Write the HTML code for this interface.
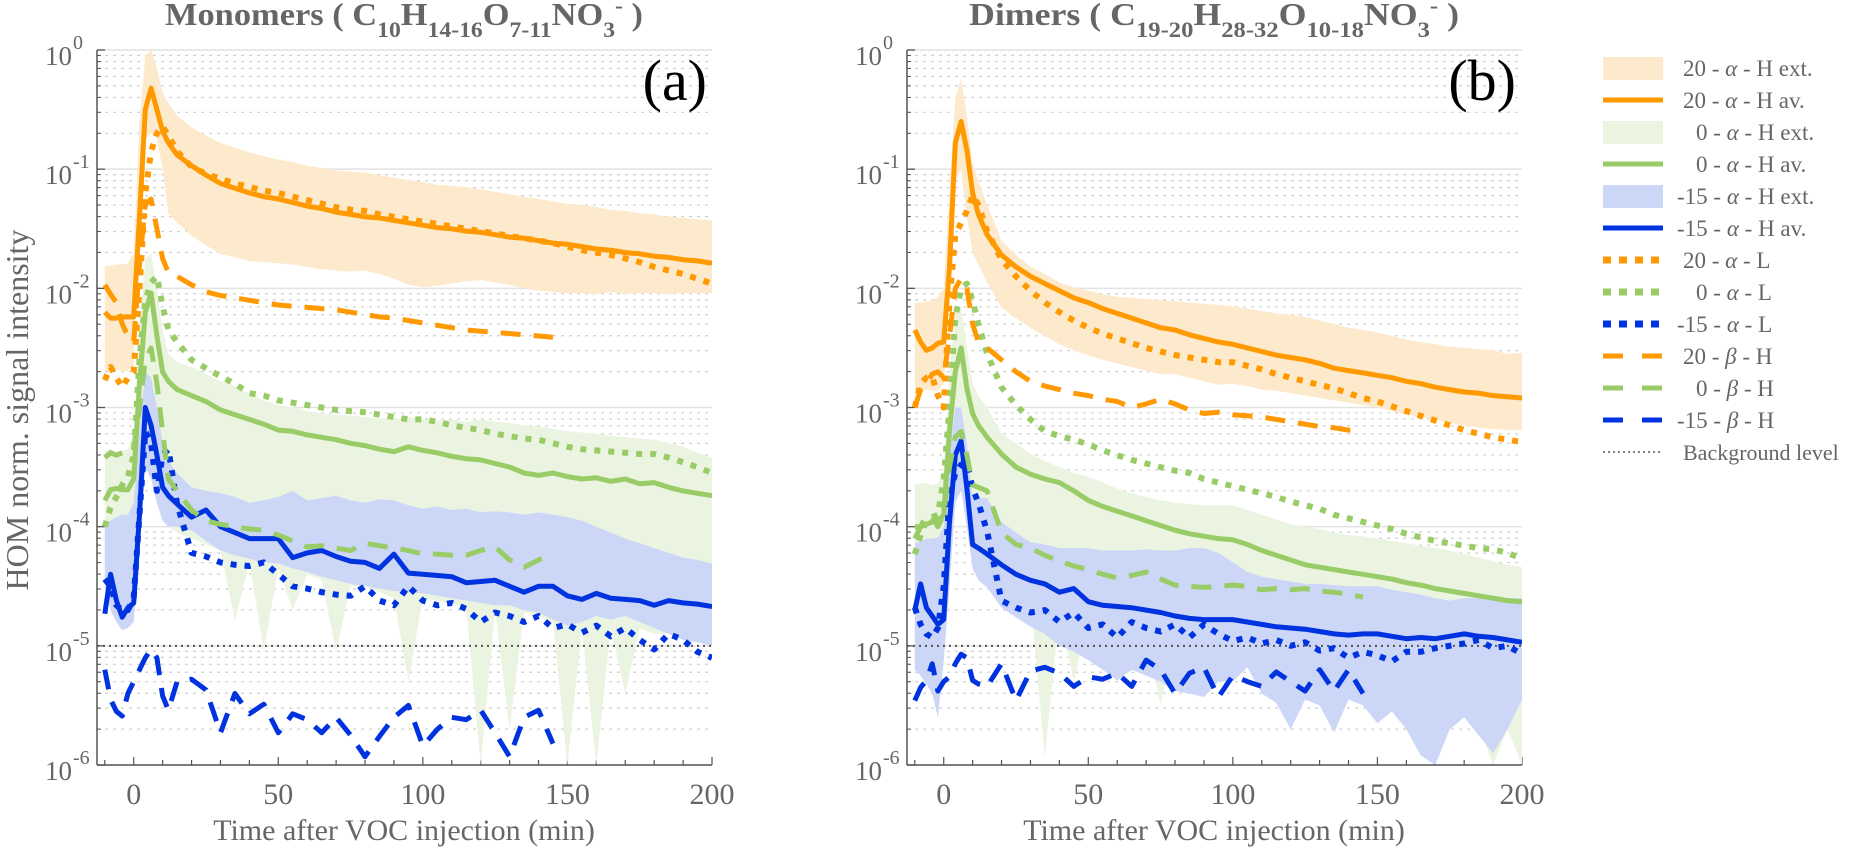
<!DOCTYPE html>
<html><head><meta charset="utf-8"><style>
html,body{margin:0;padding:0;background:#fff;}
svg{display:block;font-family:"Liberation Serif","DejaVu Serif",serif;}
</style></head><body>
<svg id="chart" width="1867" height="849" viewBox="0 0 1867 849" xmlns="http://www.w3.org/2000/svg">
<defs>
<clipPath id="clipA"><rect x="97" y="50" width="615" height="715"/></clipPath>
<clipPath id="clipB"><rect x="907" y="50" width="615" height="715"/></clipPath>
</defs>
<g id="panelA"></g>
<g id="panelB"></g>

<text x="404" y="25" text-anchor="middle" font-size="32" font-weight="bold" fill="#666" textLength="478" lengthAdjust="spacingAndGlyphs">Monomers  ( C<tspan dy="12" font-size="22">10</tspan><tspan dy="-12">H</tspan><tspan dy="12" font-size="22">14-16</tspan><tspan dy="-12">O</tspan><tspan dy="12" font-size="22">7-11</tspan><tspan dy="-12">NO</tspan><tspan dy="12" font-size="22">3</tspan><tspan dy="-24" font-size="22">-</tspan><tspan dy="12"> )</tspan></text>
<text x="1214" y="25" text-anchor="middle" font-size="32" font-weight="bold" fill="#666" textLength="490" lengthAdjust="spacingAndGlyphs">Dimers  ( C<tspan dy="12" font-size="22">19-20</tspan><tspan dy="-12">H</tspan><tspan dy="12" font-size="22">28-32</tspan><tspan dy="-12">O</tspan><tspan dy="12" font-size="22">10-18</tspan><tspan dy="-12">NO</tspan><tspan dy="12" font-size="22">3</tspan><tspan dy="-24" font-size="22">-</tspan><tspan dy="12"> )</tspan></text>

<text x="707" y="100" text-anchor="end" font-size="58" fill="#000">(a)</text>
<text x="1516" y="100" text-anchor="end" font-size="58" fill="#000">(b)</text>

<text transform="translate(28,410) rotate(-90)" text-anchor="middle" font-size="32" fill="#666">HOM norm. signal intensity</text>
<text x="404" y="840" text-anchor="middle" font-size="30" fill="#666">Time after VOC injection (min)</text>
<text x="1214" y="840" text-anchor="middle" font-size="30" fill="#666">Time after VOC injection (min)</text>

<g id="legend" font-size="23" fill="#666"></g>
</svg>
<script>
// shared time grid (min)
const timeGrid = [-10,-8,-6,-4,-2,0,2,4,6,8,10,12,15,20,25,30,35,40,45,50,55,60,65,70,75,80,85,90,95,100,105,110,115,120,125,130,135,140,145,150,155,160,165,170,175,180,185,190,195,200];
const xTicks = [0,50,100,150,200];
const yDecades = [0,-1,-2,-3,-4,-5,-6];
const backgroundLevel = 1e-5;

// ---- Panel (a) Monomers, values are log10(signal) ----
const aOrangeAvLog = [-2.2,-2.25,-2.25,-2.24,-2.24,-2.24,-1.4,-0.5,-0.32,-0.5,-0.68,-0.78,-0.88,-0.97,-1.05,-1.12,-1.16,-1.2,-1.23,-1.25,-1.28,-1.31,-1.33,-1.36,-1.38,-1.4,-1.41,-1.43,-1.45,-1.47,-1.49,-1.5,-1.52,-1.53,-1.55,-1.57,-1.58,-1.6,-1.62,-1.63,-1.65,-1.67,-1.68,-1.7,-1.71,-1.73,-1.74,-1.76,-1.77,-1.79];
const aOrangeHiLog = [-1.81,-1.81,-1.8,-1.8,-1.79,-1.7,-0.6,-0.05,0.0,-0.15,-0.36,-0.45,-0.55,-0.65,-0.72,-0.78,-0.82,-0.86,-0.89,-0.92,-0.94,-0.97,-0.99,-1.01,-1.02,-1.03,-1.05,-1.07,-1.09,-1.11,-1.13,-1.14,-1.15,-1.17,-1.19,-1.21,-1.23,-1.25,-1.27,-1.29,-1.3,-1.32,-1.34,-1.35,-1.37,-1.38,-1.4,-1.41,-1.42,-1.43];
const aOrangeLoLog = [-2.69,-2.7,-2.68,-2.7,-2.69,-2.65,-0.95,-0.75,-0.7,-0.75,-1.0,-1.37,-1.45,-1.56,-1.64,-1.71,-1.74,-1.77,-1.78,-1.79,-1.8,-1.82,-1.84,-1.85,-1.86,-1.85,-1.88,-1.92,-1.97,-1.99,-1.98,-1.96,-1.94,-1.93,-1.95,-1.97,-2.0,-2.02,-2.03,-2.04,-2.04,-2.05,-2.03,-2.05,-2.04,-2.04,-2.05,-2.04,-2.04,-2.04];
const aOrangeLLog = [-2.77,-2.66,-2.75,-2.83,-2.75,-2.7,-2.0,-1.2,-0.85,-0.7,-0.64,-0.72,-0.85,-0.98,-1.04,-1.08,-1.12,-1.15,-1.18,-1.2,-1.23,-1.26,-1.29,-1.32,-1.34,-1.35,-1.38,-1.4,-1.42,-1.44,-1.46,-1.48,-1.5,-1.52,-1.54,-1.56,-1.58,-1.6,-1.62,-1.65,-1.68,-1.7,-1.72,-1.75,-1.78,-1.82,-1.85,-1.88,-1.92,-1.96];
const aOrangeBetaLog = [-1.97,-2.05,-2.12,-2.3,-2.4,-2.45,-1.8,-1.3,-1.25,-1.5,-1.75,-1.87,-1.9,-1.97,-2.03,-2.06,-2.08,-2.1,-2.12,-2.14,-2.15,-2.16,-2.17,-2.18,-2.2,-2.22,-2.24,-2.25,-2.27,-2.29,-2.31,-2.33,-2.35,-2.36,-2.37,-2.38,-2.39,-2.4,-2.41,null,null,null,null,null,null,null,null,null,null,null];
const aGreenAvLog = [-3.78,-3.69,-3.68,-3.69,-3.69,-3.6,-2.8,-2.2,-2.04,-2.4,-2.7,-2.78,-2.85,-2.9,-2.95,-3.02,-3.06,-3.1,-3.14,-3.19,-3.2,-3.23,-3.25,-3.27,-3.3,-3.32,-3.35,-3.37,-3.33,-3.36,-3.38,-3.41,-3.43,-3.44,-3.47,-3.5,-3.55,-3.57,-3.55,-3.58,-3.6,-3.59,-3.62,-3.6,-3.64,-3.63,-3.67,-3.7,-3.72,-3.74];
const aGreenHiLog = [-3.36,-3.35,-3.37,-3.36,-3.35,-3.2,-2.3,-1.75,-1.71,-2.0,-2.35,-2.55,-2.62,-2.66,-2.72,-2.78,-2.82,-2.88,-2.94,-2.98,-3.0,-3.03,-3.05,-3.06,-3.07,-3.08,-3.09,-3.1,-3.08,-3.1,-3.11,-3.1,-3.12,-3.1,-3.12,-3.13,-3.15,-3.16,-3.18,-3.2,-3.21,-3.22,-3.24,-3.25,-3.26,-3.27,-3.3,-3.33,-3.38,-3.42];
const aGreenLoLog = [-4.4,-4.45,-4.5,-4.6,-4.7,-4.4,-3.9,-3.5,-3.4,-3.6,-3.9,-4.0,-4.05,-4.1,-4.15,-4.2,-4.79,-4.3,-5.04,-4.35,-4.7,-4.4,-4.45,-5.05,-4.5,-4.5,-4.55,-4.6,-5.3,-4.6,-4.62,-4.65,-4.68,-6.0,-4.7,-5.7,-4.72,-4.75,-4.8,-6.0,-4.85,-6.0,-4.85,-5.4,-4.85,-4.9,-4.9,-4.95,-4.95,-5.0];
const aGreenLLog = [-4.0,-3.84,-3.75,-3.65,-3.58,-3.4,-2.6,-2.1,-1.95,-1.9,-2.15,-2.35,-2.45,-2.6,-2.67,-2.74,-2.8,-2.88,-2.9,-2.94,-2.96,-2.98,-3.0,-3.02,-3.03,-3.04,-3.06,-3.08,-3.1,-3.1,-3.12,-3.15,-3.17,-3.19,-3.22,-3.24,-3.26,-3.27,-3.3,-3.33,-3.35,-3.36,-3.37,-3.38,-3.39,-3.39,-3.42,-3.46,-3.5,-3.55];
const aGreenBetaLog = [-3.42,-3.38,-3.4,-3.38,-3.4,-3.35,-3.0,-2.6,-2.5,-2.8,-3.2,-3.6,-3.7,-3.86,-3.95,-3.98,-4.0,-4.02,-4.03,-4.07,-4.12,-4.17,-4.16,-4.18,-4.2,-4.14,-4.16,-4.18,-4.2,-4.23,-4.23,-4.24,-4.24,-4.2,-4.17,-4.28,-4.34,-4.28,-4.23,null,null,null,null,null,null,null,null,null,null,null];
const aBlueAvLog = [-4.73,-4.4,-4.62,-4.76,-4.68,-4.64,-3.9,-3.0,-3.15,-3.4,-3.67,-3.74,-3.81,-3.92,-3.86,-4.0,-4.05,-4.1,-4.1,-4.1,-4.26,-4.22,-4.2,-4.25,-4.29,-4.3,-4.35,-4.23,-4.39,-4.4,-4.41,-4.42,-4.47,-4.46,-4.45,-4.5,-4.55,-4.5,-4.5,-4.58,-4.61,-4.56,-4.6,-4.61,-4.62,-4.66,-4.62,-4.64,-4.65,-4.67];
const aBlueHiLog = [-3.97,-3.95,-3.92,-3.9,-3.9,-3.8,-3.2,-2.7,-2.75,-3.0,-3.3,-3.45,-3.55,-3.67,-3.7,-3.72,-3.75,-3.8,-3.78,-3.75,-3.7,-3.78,-3.76,-3.74,-3.78,-3.8,-3.77,-3.78,-3.82,-3.85,-3.83,-3.86,-3.85,-3.88,-3.87,-3.88,-3.9,-3.88,-3.9,-3.92,-3.95,-4.0,-4.05,-4.1,-4.14,-4.18,-4.22,-4.26,-4.28,-4.31];
const aBlueLoLog = [-4.5,-4.7,-4.8,-4.87,-4.85,-4.8,-4.2,-3.5,-3.6,-3.8,-3.95,-4.0,-4.0,-4.03,-4.12,-4.2,-4.24,-4.27,-4.3,-4.31,-4.35,-4.38,-4.42,-4.45,-4.48,-4.5,-4.52,-4.54,-4.55,-4.56,-4.58,-4.6,-4.62,-4.64,-4.66,-4.66,-4.7,-4.72,-4.78,-4.83,-4.8,-4.75,-4.78,-4.75,-4.8,-4.85,-4.9,-4.95,-4.97,-5.0];
const aBlueLLog = [-4.44,-4.5,-4.66,-4.7,-4.7,-4.6,-3.9,-3.2,-3.3,-3.7,-3.4,-3.35,-3.81,-4.22,-4.25,-4.3,-4.32,-4.33,-4.3,-4.4,-4.5,-4.52,-4.55,-4.57,-4.58,-4.5,-4.62,-4.66,-4.5,-4.62,-4.66,-4.64,-4.69,-4.8,-4.72,-4.75,-4.8,-4.75,-4.85,-4.82,-4.89,-4.83,-4.92,-4.85,-4.95,-5.03,-4.9,-4.95,-5.05,-5.1];
const aBlueBetaLog = [-5.2,-5.45,-5.55,-5.59,-5.4,-5.3,-5.2,-5.1,-5.03,-5.1,-5.42,-5.54,-5.3,-5.28,-5.37,-5.73,-5.4,-5.57,-5.49,-5.73,-5.57,-5.62,-5.73,-5.6,-5.75,-5.93,-5.76,-5.6,-5.5,-5.84,-5.7,-5.6,-5.62,-5.54,-5.73,-5.93,-5.6,-5.54,-5.82,null,null,null,null,null,null,null,null,null,null,null];

// ---- Panel (b) Dimers, values are log10(signal) ----
const bOrangeAvLog = [-2.35,-2.45,-2.52,-2.5,-2.46,-2.45,-1.82,-0.78,-0.6,-0.84,-1.2,-1.38,-1.55,-1.72,-1.82,-1.9,-1.96,-2.02,-2.08,-2.12,-2.17,-2.21,-2.25,-2.29,-2.33,-2.35,-2.39,-2.42,-2.45,-2.47,-2.5,-2.53,-2.56,-2.58,-2.6,-2.63,-2.67,-2.69,-2.71,-2.73,-2.75,-2.78,-2.8,-2.83,-2.85,-2.87,-2.88,-2.9,-2.91,-2.92];
const bOrangeHiLog = [-2.12,-2.12,-2.11,-2.1,-2.07,-2.0,-1.2,-0.4,-0.24,-0.55,-0.95,-1.1,-1.3,-1.6,-1.72,-1.82,-1.88,-1.95,-1.99,-2.02,-2.05,-2.07,-2.08,-2.09,-2.1,-2.11,-2.12,-2.13,-2.14,-2.15,-2.17,-2.19,-2.21,-2.22,-2.24,-2.27,-2.3,-2.33,-2.35,-2.37,-2.4,-2.43,-2.45,-2.47,-2.49,-2.5,-2.51,-2.52,-2.55,-2.54];
const bOrangeLoLog = [-2.85,-2.86,-2.85,-2.86,-2.86,-2.8,-2.0,-1.1,-1.0,-1.4,-1.7,-1.8,-1.95,-2.16,-2.25,-2.33,-2.4,-2.47,-2.52,-2.56,-2.6,-2.63,-2.66,-2.69,-2.72,-2.72,-2.75,-2.78,-2.81,-2.8,-2.82,-2.85,-2.86,-2.88,-2.9,-2.92,-2.94,-2.96,-2.98,-3.0,-3.03,-3.06,-3.08,-3.1,-3.13,-3.15,-3.17,-3.18,-3.19,-3.19];
const bOrangeLLog = [-3.0,-2.8,-2.75,-2.74,-2.9,-3.0,-2.1,-1.55,-1.45,-1.35,-1.22,-1.3,-1.52,-1.76,-1.9,-2.02,-2.12,-2.2,-2.27,-2.33,-2.38,-2.42,-2.46,-2.5,-2.53,-2.56,-2.58,-2.6,-2.62,-2.62,-2.65,-2.68,-2.72,-2.75,-2.78,-2.81,-2.84,-2.88,-2.92,-2.95,-2.99,-3.03,-3.07,-3.11,-3.15,-3.19,-3.22,-3.25,-3.27,-3.29];
const bOrangeBetaLog = [-3.0,-2.85,-2.8,-2.72,-2.7,-2.75,-2.4,-2.0,-1.92,-2.0,-2.3,-2.45,-2.5,-2.6,-2.7,-2.78,-2.82,-2.85,-2.88,-2.9,-2.93,-2.95,-3.0,-2.97,-2.93,-2.97,-3.02,-3.05,-3.04,-3.06,-3.07,-3.08,-3.1,-3.12,-3.14,-3.16,-3.17,-3.19,-3.19,null,null,null,null,null,null,null,null,null,null,null];
const bGreenAvLog = [-4.0,-4.0,-3.98,-3.96,-3.95,-3.9,-3.2,-2.7,-2.5,-2.84,-3.05,-3.15,-3.25,-3.39,-3.5,-3.56,-3.6,-3.63,-3.7,-3.78,-3.83,-3.87,-3.91,-3.95,-3.99,-4.03,-4.06,-4.08,-4.1,-4.11,-4.15,-4.2,-4.24,-4.28,-4.32,-4.34,-4.36,-4.38,-4.4,-4.42,-4.44,-4.47,-4.49,-4.52,-4.54,-4.56,-4.58,-4.6,-4.62,-4.63];
const bGreenHiLog = [-3.64,-3.64,-3.63,-3.65,-3.64,-3.5,-2.7,-2.2,-2.16,-2.5,-2.8,-2.9,-3.0,-3.22,-3.3,-3.39,-3.45,-3.5,-3.55,-3.58,-3.63,-3.68,-3.72,-3.75,-3.78,-3.8,-3.81,-3.82,-3.82,-3.82,-3.86,-3.9,-3.94,-3.98,-4.0,-4.02,-4.05,-4.07,-4.08,-4.1,-4.12,-4.14,-4.16,-4.18,-4.2,-4.23,-4.26,-4.29,-4.32,-4.34];
const bGreenLoLog = [-4.3,-4.3,-4.3,-4.3,-4.3,-4.2,-3.8,-3.4,-3.3,-3.7,-4.0,-4.1,-4.2,-4.4,-4.5,-4.6,-5.94,-4.7,-5.3,-4.75,-4.8,-4.85,-4.85,-4.9,-5.5,-4.95,-5.0,-5.05,-5.1,-5.1,-5.12,-5.15,-5.2,-5.2,-5.25,-5.3,-5.3,-5.35,-5.4,-5.4,-5.45,-5.5,-5.5,-6.0,-5.6,-5.6,-5.65,-6.0,-5.7,-6.0];
const bGreenLLog = [-4.23,-4.07,-3.95,-3.92,-3.9,-3.6,-3.0,-2.25,-2.0,-1.96,-2.1,-2.3,-2.55,-2.83,-2.98,-3.1,-3.2,-3.24,-3.27,-3.31,-3.36,-3.4,-3.44,-3.47,-3.5,-3.53,-3.55,-3.6,-3.63,-3.66,-3.69,-3.72,-3.75,-3.79,-3.82,-3.85,-3.9,-3.93,-3.96,-3.99,-4.02,-4.06,-4.09,-4.12,-4.14,-4.16,-4.18,-4.19,-4.22,-4.27];
const bGreenBetaLog = [-4.1,-4.0,-3.9,-3.92,-4.0,-3.9,-3.5,-3.25,-3.2,-3.4,-3.65,-3.67,-3.7,-4.05,-4.15,-4.18,-4.24,-4.29,-4.33,-4.36,-4.4,-4.43,-4.41,-4.38,-4.44,-4.49,-4.5,-4.51,-4.5,-4.49,-4.5,-4.53,-4.52,-4.53,-4.52,-4.54,-4.55,-4.57,-4.59,null,null,null,null,null,null,null,null,null,null,null];
const bBlueAvLog = [-4.7,-4.48,-4.68,-4.75,-4.82,-4.78,-3.96,-3.4,-3.28,-3.68,-4.15,-4.18,-4.23,-4.32,-4.4,-4.45,-4.48,-4.55,-4.52,-4.63,-4.66,-4.67,-4.68,-4.7,-4.72,-4.75,-4.77,-4.78,-4.78,-4.78,-4.8,-4.82,-4.84,-4.85,-4.86,-4.88,-4.9,-4.91,-4.9,-4.9,-4.92,-4.94,-4.93,-4.94,-4.92,-4.9,-4.92,-4.93,-4.95,-4.97];
const bBlueHiLog = [-4.14,-4.12,-4.1,-4.1,-4.09,-4.0,-3.4,-3.0,-3.0,-3.3,-3.76,-3.76,-3.76,-3.96,-4.05,-4.13,-4.15,-4.18,-4.18,-4.18,-4.2,-4.2,-4.2,-4.19,-4.2,-4.2,-4.18,-4.18,-4.22,-4.3,-4.38,-4.42,-4.44,-4.46,-4.48,-4.48,-4.49,-4.5,-4.5,-4.5,-4.53,-4.55,-4.57,-4.6,-4.62,-4.6,-4.6,-4.61,-4.6,-4.6];
const bBlueLoLog = [-5.2,-5.25,-5.32,-5.4,-5.6,-5.13,-4.5,-3.8,-3.7,-4.0,-4.35,-4.45,-4.51,-4.68,-4.76,-4.84,-4.9,-5.0,-5.05,-5.12,-5.2,-5.29,-5.2,-5.25,-5.3,-5.38,-5.4,-5.43,-5.3,-5.3,-5.18,-5.4,-5.48,-5.7,-5.45,-5.5,-5.73,-5.45,-5.5,-5.65,-5.55,-5.7,-5.92,-6.0,-5.7,-5.6,-5.75,-5.9,-5.7,-5.45];
const bBlueLLog = [-4.68,-4.82,-4.9,-4.93,-4.85,-4.5,-3.75,-3.55,-3.48,-3.46,-3.68,-3.8,-4.04,-4.62,-4.68,-4.72,-4.7,-4.8,-4.72,-4.85,-4.82,-4.93,-4.8,-4.85,-4.88,-4.82,-4.93,-4.82,-4.9,-4.96,-4.93,-4.98,-4.95,-5.0,-4.97,-5.04,-5.02,-5.1,-5.05,-5.08,-5.13,-5.05,-5.05,-5.02,-5.0,-4.98,-4.95,-5.02,-5.0,-5.07];
const bBlueBetaLog = [-5.46,-5.35,-5.29,-5.15,-5.38,-5.3,-5.26,-5.15,-5.07,-5.1,-5.29,-5.32,-5.34,-5.15,-5.46,-5.21,-5.18,-5.23,-5.34,-5.26,-5.28,-5.23,-5.34,-5.12,-5.2,-5.4,-5.23,-5.18,-5.43,-5.25,-5.3,-5.34,-5.22,-5.3,-5.38,-5.2,-5.38,-5.2,-5.4,null,null,null,null,null,null,null,null,null,null,null];

const legendLabels = ["20 - \u03b1 - H ext.","20 - \u03b1 - H av."," 0 - \u03b1 - H ext."," 0 - \u03b1 - H av.","-15 - \u03b1 - H ext.","-15 - \u03b1 - H av.","20 - \u03b1 - L"," 0 - \u03b1 - L","-15 - \u03b1 - L","20 - \u03b2 - H"," 0 - \u03b2 - H","-15 - \u03b2 - H","Background level"];

const NS = "http://www.w3.org/2000/svg";
const COL = {or:"#ff9900", gr:"#99cc66", bl:"#0033e0", orF:"#fde9cb", grF:"#ebf4e1", blF:"#ccd6f6", ax:"#555", txt:"#666"};
const X_MIN = -12.7, X_MAX = 200, Y_TOP = 50, Y_BOT = 765, DECADE = (765-50)/6;
function yScale(lg){ return Y_TOP + (0 - lg) * DECADE; }
function mk(tag, attrs, parent){ const e = document.createElementNS(NS, tag); for (const k in attrs) e.setAttribute(k, attrs[k]); parent.appendChild(e); return e; }

function drawPanel(g, x0, clipId, S, tag){
  const x1 = x0 + 615;
  const xScale = t => x0 + (t - X_MIN) / (X_MAX - X_MIN) * 615;
  for (let d = 0; d > -6; d--){
    for (let m = 2; m <= 9; m++){
      const y = yScale(d - 1 + Math.log10(m));
      const l = mk('line', {x1:x0, x2:x1, y1:y, y2:y, stroke:'#cfcfcf', 'stroke-width':1.2, 'stroke-dasharray':'3 5'}, g);
      
      
      const tk = mk('line', {x1:x0, x2:x0+4, y1:y, y2:y, stroke:COL.ax, 'stroke-width':1}, g);
      
      
    }
  }
  yDecades.forEach(d => {
    const y = yScale(d);
    const l = mk('line', {x1:x0, x2:x1, y1:y, y2:y, stroke:'#e2e2e2', 'stroke-width':1.5}, g);
    
    
    const tk = mk('line', {x1:x0, x2:x0+8, y1:y, y2:y, stroke:COL.ax, 'stroke-width':1.3}, g);
    
    
    const t = mk('text', {x:x0-25, y:y+15, 'text-anchor':'end', 'font-size':27, fill:COL.txt}, g);
    t.textContent = '10';
    
    
    const s = mk('text', {x:x0-24, y:y-1, 'font-size':20, fill:COL.txt}, g);
    s.textContent = String(d);
    
    
  });
  for (let t = -10; t <= 200; t += 10){
    const x = xScale(t);
    const major = (t % 50 === 0);
    const tk = mk('line', {x1:x, x2:x, y1:Y_BOT, y2:Y_BOT-(major?8:5), stroke:COL.ax, 'stroke-width':1.2}, g);
    
    
  }
  xTicks.forEach(v => {
    const t = mk('text', {x:xScale(v), y:804, 'text-anchor':'middle', 'font-size':30, fill:COL.txt}, g);
    t.textContent = v;
    
    
  });

  const plot = mk('g', {'clip-path':'url(#'+clipId+')'}, g);
  
  

  function band(hi, lo, fill, name){
    const up = [], dn = [];
    timeGrid.forEach((t,i) => { if (hi[i] != null) up.push(xScale(t).toFixed(1)+','+yScale(hi[i]).toFixed(1)); });
    for (let i = timeGrid.length-1; i >= 0; i--) if (lo[i] != null) dn.push(xScale(timeGrid[i]).toFixed(1)+','+yScale(Math.max(lo[i], -6.3)).toFixed(1));
    const p = mk('polygon', {points: up.concat(dn).join(' '), fill: fill, stroke:'none'}, plot);
    
    
  }
  function line(vals, color, style, name){
    let segs = [], cur = [];
    timeGrid.forEach((t,i) => {
      if (vals[i] == null){ if (cur.length) segs.push(cur); cur = []; }
      else cur.push(xScale(t).toFixed(1)+','+yScale(vals[i]).toFixed(1));
    });
    if (cur.length) segs.push(cur);
    segs.forEach(sg => {
      const a = {points: sg.join(' '), fill:'none', stroke:color, 'stroke-linejoin':'round'};
      if (style === 'solid'){ a['stroke-width'] = 5; }
      else if (style === 'dot'){ a['stroke-width'] = 6; a['stroke-dasharray'] = '6 8'; }
      else { a['stroke-width'] = 5; a['stroke-dasharray'] = '20 13'; }
      const p = mk('polyline', a, plot);
      
      
    });
  }
  band(S.orHi, S.orLo, COL.orF, 'band-20-alpha-h-ext');
  band(S.grHi, S.grLo, COL.grF, 'band-0-alpha-h-ext');
  band(S.blHi, S.blLo, COL.blF, 'band-minus15-alpha-h-ext');
  const by = yScale(Math.log10(backgroundLevel));
  const bg = mk('line', {x1:x0, x2:x1, y1:by, y2:by, stroke:'#555', 'stroke-width':2, 'stroke-dasharray':'2 4'}, plot);
  
  
  line(S.orAv, COL.or, 'solid', 'line-20-alpha-h-av');
  line(S.grAv, COL.gr, 'solid', 'line-0-alpha-h-av');
  line(S.blAv, COL.bl, 'solid', 'line-minus15-alpha-h-av');
  line(S.orL, COL.or, 'dot', 'line-20-alpha-l');
  line(S.grL, COL.gr, 'dot', 'line-0-alpha-l');
  line(S.blL, COL.bl, 'dot', 'line-minus15-alpha-l');
  line(S.orB, COL.or, 'dash', 'line-20-beta-h');
  line(S.grB, COL.gr, 'dash', 'line-0-beta-h');
  line(S.blB, COL.bl, 'dash', 'line-minus15-beta-h');

  const ya = mk('line', {x1:x0, x2:x0, y1:Y_TOP, y2:Y_BOT, stroke:COL.ax, 'stroke-width':1.5}, g);
  
  
  const xa = mk('line', {x1:x0, x2:x1, y1:Y_BOT, y2:Y_BOT, stroke:COL.ax, 'stroke-width':1.5}, g);
  
  
}

drawPanel(document.getElementById('panelA'), 97, 'clipA', {
  orHi:aOrangeHiLog, orLo:aOrangeLoLog, grHi:aGreenHiLog, grLo:aGreenLoLog, blHi:aBlueHiLog, blLo:aBlueLoLog,
  orAv:aOrangeAvLog, grAv:aGreenAvLog, blAv:aBlueAvLog, orL:aOrangeLLog, grL:aGreenLLog, blL:aBlueLLog,
  orB:aOrangeBetaLog, grB:aGreenBetaLog, blB:aBlueBetaLog}, 'monomers');
drawPanel(document.getElementById('panelB'), 907, 'clipB', {
  orHi:bOrangeHiLog, orLo:bOrangeLoLog, grHi:bGreenHiLog, grLo:bGreenLoLog, blHi:bBlueHiLog, blLo:bBlueLoLog,
  orAv:bOrangeAvLog, grAv:bGreenAvLog, blAv:bBlueAvLog, orL:bOrangeLLog, grL:bGreenLLog, blL:bBlueLLog,
  orB:bOrangeBetaLog, grB:bGreenBetaLog, blB:bBlueBetaLog}, 'dimers');

(function(){
  const lg = document.getElementById('legend');
  const kinds = ['fill','solid','fill','solid','fill','solid','dot','dot','dot','dash','dash','dash','bg'];
  const cols = [COL.orF,COL.or,COL.grF,COL.gr,COL.blF,COL.bl,COL.or,COL.gr,COL.bl,COL.or,COL.gr,COL.bl,'#555'];
  legendLabels.forEach((lab, i) => {
    const y = 68 + i*32;
    let sw;
    if (kinds[i] === 'fill') sw = mk('rect', {x:1603, y:y-11, width:60, height:23, fill:cols[i]}, lg);
    else {
      const a = {x1:1603, x2:1663, y1:y, y2:y, stroke:cols[i], 'stroke-width':5};
      if (kinds[i] === 'dot'){ a['stroke-dasharray'] = '8 8'; a['stroke-width'] = 7; }
      if (kinds[i] === 'dash'){ a['stroke-dasharray'] = '20 19'; }
      if (kinds[i] === 'bg'){ a['stroke-dasharray'] = '2 3'; a['stroke-width'] = 1.5; }
      sw = mk('line', a, lg);
    }
    
    
    const lead = lab.startsWith('-15') ? 1677 : (lab.startsWith(' 0') ? 1696 : 1683);
    const t = mk('text', {x:lead, y:y+8, 'font-size': kinds[i]==='bg' ? 22 : 23, fill:COL.txt}, lg);
    
    
    const txt = lab.trim();
    const parts = txt.split(/([\u03b1\u03b2])/);
    parts.forEach(p => {
      const ts = mk('tspan', {}, t);
      if (p === '\u03b1' || p === '\u03b2') ts.setAttribute('font-style', 'italic');
      ts.textContent = p;
    });
  });
})();
</script>
</body></html>
